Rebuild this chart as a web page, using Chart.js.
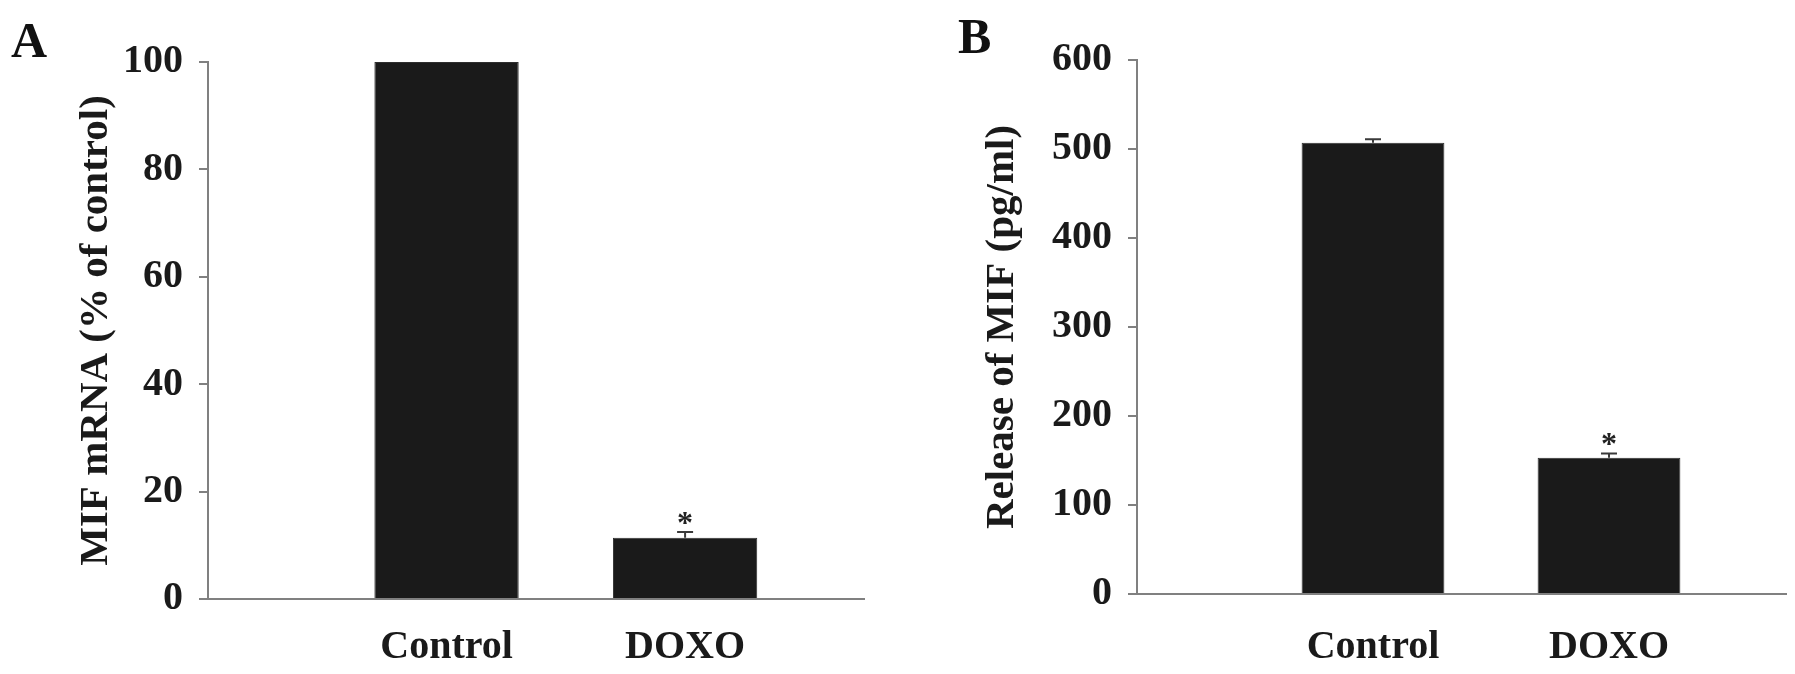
<!DOCTYPE html>
<html>
<head>
<meta charset="utf-8">
<script src="https://cdn.jsdelivr.net/npm/chart.js@4.4.0/dist/chart.umd.min.js"></script>
<style>
  body { margin: 0; background: #fff; width: 1795px; height: 674px; position: relative; overflow: hidden; }
  canvas { position: absolute; top: 0; }
  .panel { position: absolute; font-family: "Liberation Serif", "Times New Roman", serif; font-weight: bold; font-size: 50px; line-height: 1; color: #111; }
</style>
</head>
<body>
<div class="panel" style="left:11px; top:15px;">A</div>
<div class="panel" style="left:958px; top:11px;">B</div>
<canvas id="chart-mrna" width="890" height="674" style="left:0px"></canvas>
<canvas id="chart-release" width="905" height="674" style="left:890px"></canvas>
<script>
// data
var categories = ['Control', 'DOXO'];
var mrnaValues = [100, 11.4];
var mrnaErrors = [0, 1.1];
var releaseValues = [507, 153];
var releaseErrors = [4, 5];
var significance = ['', '*'];
var mrnaTicks = [0, 20, 40, 60, 80, 100];
var releaseTicks = [0, 100, 200, 300, 400, 500, 600];

Chart.defaults.font.family = '"Liberation Serif", "Times New Roman", serif';
Chart.defaults.font.weight = 'bold';
Chart.defaults.color = '#1a1a1a';

var axisColor = '#808080';

// error bars + asterisks on top of the bars
var errorBarPlugin = {
  id: 'errorBars',
  afterDatasetsDraw: function (chart, args, opts) {
    var ctx = chart.ctx;
    var xs = chart.scales.x, ys = chart.scales.y;
    var values = chart.data.datasets[0].data;
    ctx.save();
    values.forEach(function (pt, i) {
      var err = opts.errors[i];
      var x = xs.getPixelForValue(pt.x);
      var yTop = ys.getPixelForValue(pt.y + err);
      if (err > 0) {
        ctx.strokeStyle = '#3a3a3a';
        ctx.lineWidth = 2;
        ctx.beginPath();
        ctx.moveTo(x, ys.getPixelForValue(pt.y));
        ctx.lineTo(x, yTop);
        ctx.moveTo(x - 8, yTop);
        ctx.lineTo(x + 8, yTop);
        ctx.stroke();
      }
      if (opts.marks[i]) {
        ctx.font = 'bold 32px "Liberation Serif", "Times New Roman", serif';
        ctx.fillStyle = '#222';
        ctx.textAlign = 'center';
        ctx.textBaseline = 'alphabetic';
        var m = ctx.measureText(opts.marks[i]);
        var cy = yTop - 14;
        ctx.fillText(opts.marks[i], x, cy + (m.actualBoundingBoxAscent - m.actualBoundingBoxDescent) / 2);
      }
    });
    ctx.restore();
  }
};

function makeChart(id, values, errors, ticks, yTitle, box) {
  var ctx = document.getElementById(id).getContext('2d');
  return new Chart(ctx, {
    type: 'bar',
    data: {
      datasets: [{
        data: values.map(function (v, i) { return { x: i, y: v }; }),
        backgroundColor: '#1a1a1a',
        borderColor: '#2e2e2e',
        borderWidth: 1,
        categoryPercentage: 1,
        barPercentage: 0.605
      }]
    },
    options: {
      responsive: false,
      animation: false,
      layout: { padding: { top: box.top, right: box.right, left: 0, bottom: 0 } },
      plugins: {
        legend: { display: false },
        tooltip: { enabled: false },
        errorBars: { errors: errors, marks: significance }
      },
      scales: {
        x: {
          type: 'linear',
          offset: false,
          min: -1,
          max: 1.75,
          grid: { display: false, drawTicks: false, offset: false },
          border: { display: true, color: axisColor, width: 2 },
          afterBuildTicks: function (scale) {
            scale.ticks = categories.map(function (c, i) { return { value: i }; });
          },
          afterFit: function (scale) { scale.height = box.xHeight; },
          ticks: {
            padding: box.xPad,
            font: { size: 40, weight: 'bold' },
            color: '#1a1a1a',
            callback: function (v) { return categories[v]; }
          }
        },
        y: {
          min: ticks[0],
          max: ticks[ticks.length - 1],
          grid: { drawOnChartArea: false, drawTicks: true, tickLength: 9, color: axisColor, lineWidth: 2 },
          border: { display: true, color: axisColor, width: 2 },
          afterBuildTicks: function (scale) {
            scale.ticks = ticks.map(function (t) { return { value: t }; });
          },
          afterFit: function (scale) { scale.width = box.yWidth; },
          ticks: {
            padding: 16,
            font: { size: 40, weight: 'bold' },
            color: '#1a1a1a'
          },
          title: {
            display: true,
            text: yTitle,
            font: { size: 41, weight: 'bold' },
            color: '#1a1a1a',
            padding: { top: box.titlePad, bottom: 0 }
          }
        }
      }
    },
    plugins: [errorBarPlugin]
  });
}

makeChart('chart-mrna', mrnaValues, mrnaErrors, mrnaTicks, 'MIF mRNA (% of control)',
  { top: 62, right: 26, yWidth: 208, xHeight: 75, xPad: 25, titlePad: 72 });
makeChart('chart-release', releaseValues, releaseErrors, releaseTicks, 'Release of MIF (pg/ml)',
  { top: 60, right: 9, yWidth: 247, xHeight: 80, xPad: 30, titlePad: 88 });
</script>
</body>
</html>
